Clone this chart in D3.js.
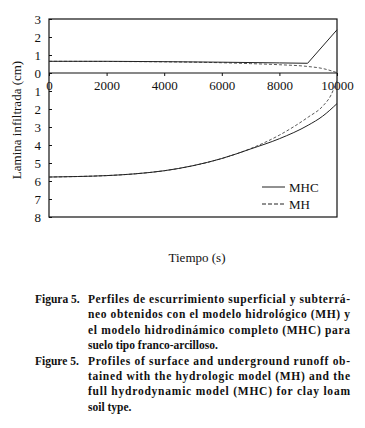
<!DOCTYPE html>
<html>
<head>
<meta charset="utf-8">
<script src="https://cdn.jsdelivr.net/npm/d3@7"></script>
<style>
  body { margin: 0; background: #fff; }
  svg { display: block; }
  text { font-family: "Liberation Serif", "DejaVu Serif", serif; fill: #111; }
</style>
</head>
<body>
<div id="chart"></div>
<script>
// Surface runoff (above 0) and infiltrated depth (below 0), time in seconds
const surfTimeMHC = [0, 2000, 4000, 6000, 8000, 8980, 10000]
const surfMHC     = [0.65, 0.65, 0.63, 0.60, 0.56, 0.54, 2.4]
const surfTimeMH  = [0, 2000, 4000, 6000, 7000, 8000, 9000, 9500, 10000]
const surfMH      = [0.65, 0.64, 0.62, 0.57, 0.52, 0.46, 0.36, 0.25, 0.02]

const subTimeMHC = [0, 1000, 2000, 3000, 4000, 5000, 6000, 7000, 8000, 9000, 9500, 10000]
const subMHC     = [-5.78, -5.75, -5.7, -5.6, -5.43, -5.15, -4.75, -4.22, -3.65, -2.9, -2.4, -1.7]
const subTimeMH  = [0, 1000, 2000, 3000, 4000, 5000, 6000, 7000, 8000, 9000, 9500, 9800, 10000]
const subMH      = [-5.78, -5.75, -5.7, -5.6, -5.43, -5.15, -4.75, -4.2, -3.45, -2.45, -1.85, -1.2, -0.4]

const xTicks = [0, 2000, 4000, 6000, 8000, 10000]
const yTicks = [3, 2, 1, 0, -1, -2, -3, -4, -5, -6, -7, -8]

const legendNames = ["MHC", "MH"]

const captionEs = [
  "Perfiles de escurrimiento superficial y subterrá-",
  "neo obtenidos con el modelo hidrológico (MH) y",
  "el modelo hidrodinámico completo (MHC) para",
  "suelo tipo franco-arcilloso."
]
const captionEn = [
  "Profiles of surface and underground runoff ob-",
  "tained with the hydrologic model (MH) and the",
  "full hydrodynamic model (MHC) for clay loam",
  "soil type."
]

const W = 365, H = 428
const svg = d3.select("#chart").append("svg")
  .attr("width", W).attr("height", H)

const x = d3.scaleLinear().domain([0, 10000]).range([49, 337])
const y = d3.scaleLinear().domain([3, -8]).range([19, 217])

// frame + zero line
svg.append("rect")
  .attr("x", x(0)).attr("y", y(3))
  .attr("width", x(10000) - x(0)).attr("height", y(-8) - y(3))
  .attr("fill", "none").attr("stroke", "#111").attr("stroke-width", 1.2)
svg.append("line")
  .attr("x1", x(0)).attr("x2", x(10000))
  .attr("y1", y(0)).attr("y2", y(0))
  .attr("stroke", "#111").attr("stroke-width", 1.2)

// axes
const xAxis = svg.append("g")
  .attr("transform", `translate(0,${y(0)})`)
  .call(d3.axisBottom(x).tickValues(xTicks).tickSize(3).tickPadding(5).tickFormat(d3.format("d")))
const yAxis = svg.append("g")
  .attr("transform", `translate(${x(0)},0)`)
  .call(d3.axisLeft(y).tickValues(yTicks).tickSizeInner(-3).tickSizeOuter(0).tickPadding(8)
    .tickFormat(d => Math.abs(d)))
for (const g of [xAxis, yAxis]) {
  g.select(".domain").remove()
  g.selectAll("line").attr("stroke", "#111")
  g.selectAll("text").attr("font-size", 13).attr("font-family", "Liberation Serif").attr("fill", "#111")
}

// series
function pts(ts, vs) { return ts.map((t, i) => [t, vs[i]]) }
const lineLin = d3.line().x(d => x(d[0])).y(d => y(d[1]))
const lineSmooth = d3.line().x(d => x(d[0])).y(d => y(d[1])).curve(d3.curveMonotoneX)

svg.append("path").datum(pts(surfTimeMH, surfMH)).attr("d", lineSmooth)
  .attr("fill", "none").attr("stroke", "#444").attr("stroke-width", 0.9).attr("stroke-dasharray", "3,2")
svg.append("path").datum(pts(subTimeMH, subMH)).attr("d", lineSmooth)
  .attr("fill", "none").attr("stroke", "#444").attr("stroke-width", 0.9).attr("stroke-dasharray", "3,2")
svg.append("path").datum(pts(surfTimeMHC, surfMHC)).attr("d", lineLin)
  .attr("fill", "none").attr("stroke", "#222").attr("stroke-width", 1)
svg.append("path").datum(pts(subTimeMHC, subMHC)).attr("d", lineSmooth)
  .attr("fill", "none").attr("stroke", "#222").attr("stroke-width", 1)

// legend
legendNames.forEach((name, i) => {
  const ly = 187 + i * 17
  svg.append("line")
    .attr("x1", 262).attr("x2", 285).attr("y1", ly).attr("y2", ly)
    .attr("stroke", "#222").attr("stroke-width", 1)
    .attr("stroke-dasharray", i === 1 ? "4,2" : null)
  svg.append("text").attr("x", 289).attr("y", ly + 4.5)
    .attr("font-size", 13).text(name)
})

// axis titles
svg.append("text")
  .attr("transform", `translate(21,120) rotate(-90)`)
  .attr("text-anchor", "middle").attr("font-size", 13)
  .text("Lamina infiltrada (cm)")
svg.append("text")
  .attr("x", 197).attr("y", 262)
  .attr("text-anchor", "middle").attr("font-size", 13)
  .text("Tiempo (s)")

// caption
function caption(label, lines, y0) {
  svg.append("text").attr("x", 35).attr("y", y0)
    .attr("font-size", 11.5).attr("font-weight", "bold").text(label)
  lines.forEach((s, i) => {
    const t = svg.append("text").attr("x", 88).attr("y", y0 + i * 15.4)
      .attr("font-size", 11.5).attr("font-weight", "bold").text(s)
    if (i < lines.length - 1) t.attr("textLength", 262).attr("lengthAdjust", "spacing")
  })
}
caption("Figura 5.", captionEs, 303)
caption("Figure 5.", captionEn, 303 + 4 * 15.4)
</script>
</body>
</html>
